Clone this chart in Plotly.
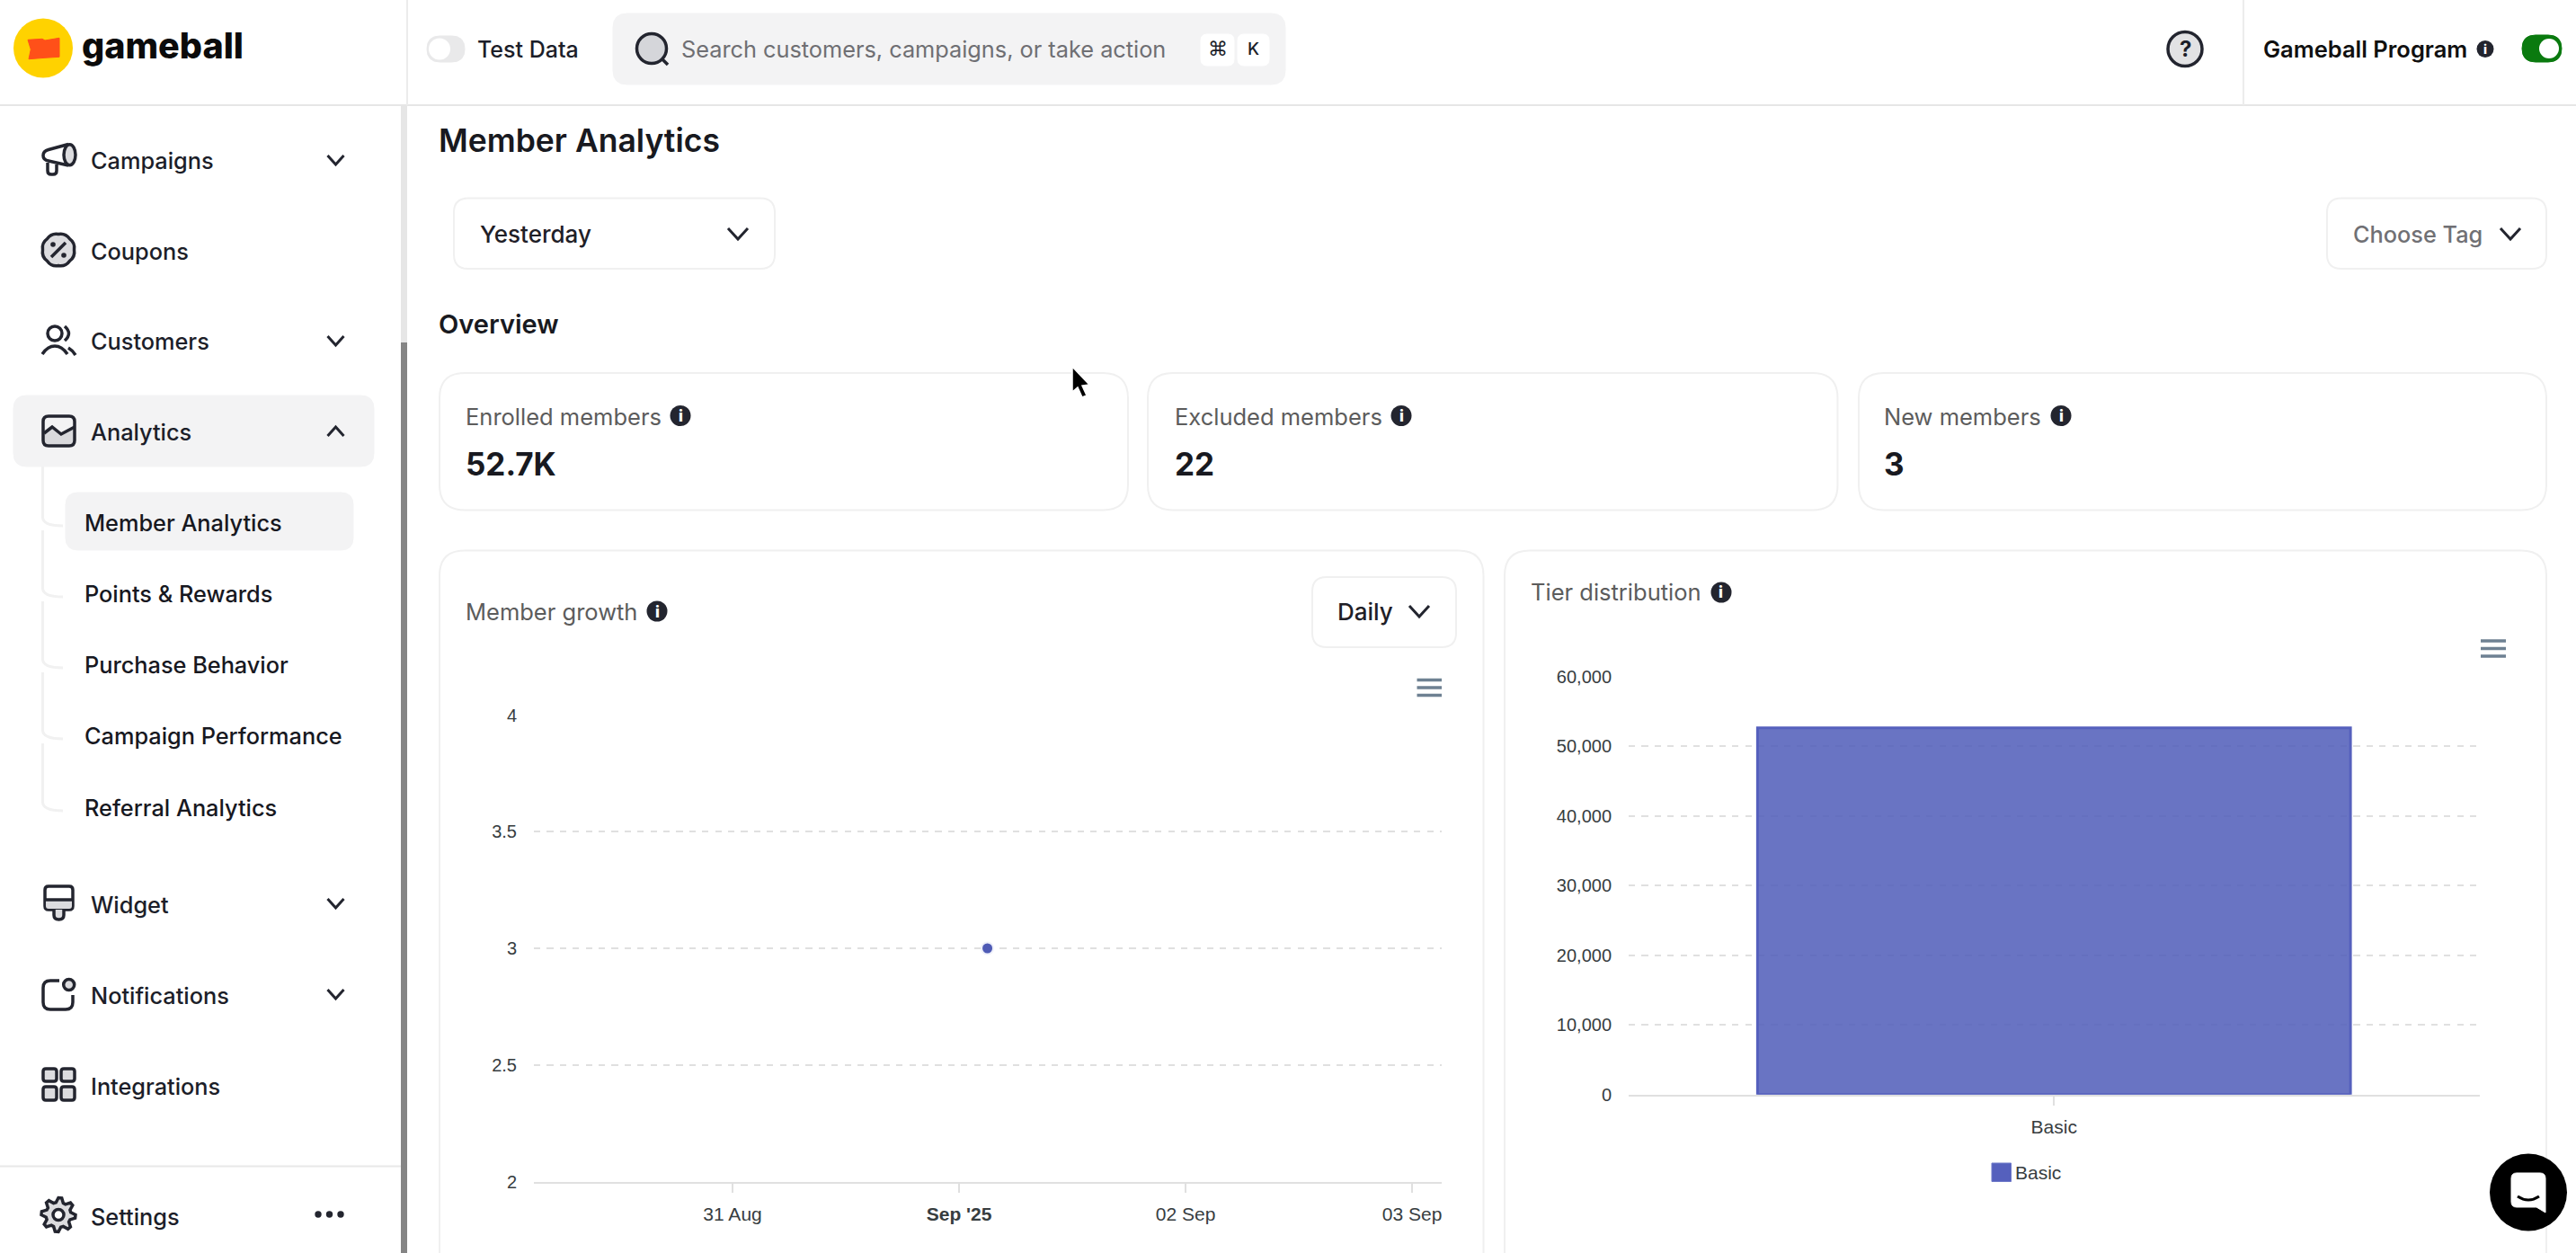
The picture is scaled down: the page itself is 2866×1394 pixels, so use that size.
import math

import plotly.graph_objects as go

W = 2866
H = 1394

# chart data
MEMBER_DATES = ['2025-09-01 03:00']
MEMBER_VALUES = [3]
MEMBER_TICK_DATES = ['2025-08-31', '2025-09-01', '2025-09-02', '2025-09-03']
MEMBER_TICK_TEXT = ['31 Aug', "<b>Sep '25</b>", '02 Sep', '03 Sep']
MEMBER_Y_TICKS = [2, 2.5, 3, 3.5, 4]
MEMBER_Y_TEXT = ['2', '2.5', '3', '3.5', '4']

TIER_NAMES = ['Basic']
TIER_VALUES = [52600]
TIER_Y_TICKS = [0, 10000, 20000, 30000, 40000, 50000, 60000]

STAT_LABELS = ['Enrolled members', 'Excluded members', 'New members']
STAT_VALUES = ['52.7K', '22', '3']

DARK = '#1c1e29'
ICON = '#23252f'
ICON_FILL = '#dcdcdf'
GRAY = '#5c5c5c'
BORDER = '#f0f0f0'
PANEL = '#f3f3f4'
CHART_FONT = 'Liberation Sans'
NONE = 'rgba(0,0,0,0)'

fig = go.Figure()


def X(x):
    return x / W


def Y(y):
    return 1 - y / H


def pts(s):
    # path written in pixels -> paper coords
    out = []
    for tok in s.split():
        if tok[0].isalpha():
            out.append(tok[0])
            tok = tok[1:]
            if not tok:
                continue
        a, b = tok.split(',')
        out.append(f'{X(float(a)):.5f},{Y(float(b)):.5f}')
    return ' '.join(out)


def path(s, fill=NONE, line=ICON, width=3.5):
    fig.add_shape(type='path', path=pts(s), xref='paper', yref='paper', fillcolor=fill,
                  line=dict(color=line, width=width), layer='below')


def rrect(x0, y0, x1, y1, r, fill='white', line=BORDER, width=2):
    s = (f'M{x0 + r},{y0} L{x1 - r},{y0} Q{x1},{y0} {x1},{y0 + r} L{x1},{y1 - r} Q{x1},{y1} {x1 - r},{y1} '
         f'L{x0 + r},{y1} Q{x0},{y1} {x0},{y1 - r} L{x0},{y0 + r} Q{x0},{y0} {x0 + r},{y0} Z')
    path(s, fill, line if width else NONE, width)


def circle(cx, cy, r, fill='white', line=ICON, width=0, ry=None):
    ry = ry or r
    fig.add_shape(type='circle', xref='paper', yref='paper', x0=X(cx - r), x1=X(cx + r), y0=Y(cy + ry), y1=Y(cy - ry),
                  fillcolor=fill, line=dict(color=line, width=width), layer='below')


def hline(x0, x1, y, color=BORDER, width=2):
    fig.add_shape(type='line', xref='paper', yref='paper', x0=X(x0), x1=X(x1), y0=Y(y), y1=Y(y),
                  line=dict(color=color, width=width), layer='below')


def vline(x, y0, y1, color=BORDER, width=2):
    fig.add_shape(type='line', xref='paper', yref='paper', x0=X(x), x1=X(x), y0=Y(y0), y1=Y(y1),
                  line=dict(color=color, width=width), layer='below')


def text(s, x, y, size=25.3, color=DARK, weight=500, anchor='left', family='Inter'):
    fig.add_annotation(text=s, x=X(x), y=Y(y), xref='paper', yref='paper', showarrow=False, xanchor=anchor,
                       yanchor='middle', borderpad=0, borderwidth=0,
                       font=dict(family=family, size=size, color=color, weight=weight))


def chevron(x, y, w=9, h=5, up=False, width=3):
    d = -h if up else h
    path(f'M{x - w},{y - d} L{x},{y + d} L{x + w},{y - d}', width=width)


def info(x, y, r=11.5):
    circle(x, y, r, fill=ICON)
    text('i', x, y, size=r * 1.5, color='white', weight=800, anchor='center')


def burger(x0, x1, ys):
    for y in ys:
        hline(x0, x1, y, color='#6e8192', width=3.5)


def gear(cx, cy, r0, r1, n):
    # toothed ring for the settings icon
    step = 2 * math.pi / (n * 4)
    p = []
    for i in range(n * 4):
        r = r1 if i % 4 in (0, 1) else r0
        p.append(f'{cx + r * math.cos(i * step):.1f},{cy + r * math.sin(i * step):.1f}')
    return 'M' + ' L'.join(p) + ' Z'


def badge(cx, cy, r0, r1, n):
    # scalloped outline for the coupon icon
    step = 2 * math.pi / n
    s = f'M{cx + r0:.1f},{cy:.1f}'
    for i in range(n):
        a = (i + 0.5) * step
        b = (i + 1) * step
        s += (f' Q{cx + r1 * math.cos(a):.1f},{cy + r1 * math.sin(a):.1f} '
              f'{cx + r0 * math.cos(b):.1f},{cy + r0 * math.sin(b):.1f}')
    return s + ' Z'


# ---- header and sidebar frame
hline(0, W, 117, color='#e6e6e6')
vline(453, 0, 117, color='#ececec')
vline(2496, 0, 117, color='#ececec')
vline(449.5, 117, 381, color='#e6e6e6', width=7)
vline(449.5, 381, H, color='#858585', width=7)
hline(0, 446, 1297.5, color='#e8e8e8')

circle(48, 53.5, 33, fill='#ffd200')
path('M31,44.3 L47,43.3 L50,45 L66,42.3 L66,63.3 L50,64.3 L32,65.7 L34.3,55 Z', fill='#ff5019', line='#ff5019', width=1)
text('gameball', 91, 51, size=39.5, color='#0b0b0b', weight=800)

rrect(475, 40, 517, 69, 14.5, fill='#e9e9ea', line='#e9e9ea', width=1)
circle(489, 54.5, 12, fill='white')
text('Test Data', 531, 55, size=25)

rrect(682, 15, 1430, 94, 16, fill=PANEL, line=PANEL, width=1)
circle(725, 54, 16.5, fill='#d5d6da', width=3.5)
path('M737,66 L743,72')
text('Search customers, campaigns, or take action', 758, 55, size=25.3, color='#6f6f73', weight=400)
rrect(1336, 38, 1373, 73, 7, fill='white', line='white', width=1)
rrect(1377, 38, 1412, 73, 7, fill='white', line='white', width=1)
text('⌘', 1354.5, 55, size=22, family='DejaVu Sans', anchor='center', weight=400)
text('K', 1394.5, 55, size=19, anchor='center')

circle(2431, 54.5, 19, fill='#e2e2e4', width=3.5)
text('?', 2431, 54.5, size=24, weight=700, anchor='center')
text('Gameball Program', 2518, 54.5, size=25.5, color='#101010', weight=600)
info(2765, 54.5, 9.5)
rrect(2806, 39, 2850, 69, 15, fill='#0a7a0f', line='#0a7a0f', width=1)
circle(2836, 54, 11, fill='white')

# ---- sidebar menu
rrect(15, 440, 416, 519, 15, fill=PANEL, line=PANEL, width=1)
rrect(73, 548, 393, 612, 14, fill=PANEL, line=PANEL, width=1)
for top, end in [(519, 585), (590, 664), (669, 743), (748, 822), (827, 902)]:
    path(f'M47.5,{top} L47.5,{end - 10} Q47.5,{end} 70,{end}', line='#f1f1f1', width=3)

text('Campaigns', 100.5, 178.5)
text('Coupons', 100.5, 279)
text('Customers', 100.5, 379.5)
text('Analytics', 100.5, 480.5)
text('Member Analytics', 94, 581.5, color='#17181f')
text('Points & Rewards', 94, 660.5, color='#17181f')
text('Purchase Behavior', 94, 739.5, color='#17181f')
text('Campaign Performance', 94, 818.5, color='#17181f')
text('Referral Analytics', 94, 898, color='#17181f')
text('Widget', 100.5, 1006)
text('Notifications', 100.5, 1107)
text('Integrations', 100.5, 1208)
text('Settings', 100.5, 1353)

for y in (178, 379, 1005, 1106):
    chevron(373.5, y)
chevron(373.5, 480, up=True)
for x in (354, 366.5, 379):
    circle(x, 1351, 3.7, fill=ICON)

# campaigns
path('M76,160.5 L54,166.5 Q48,168 48,173 Q48,178 54,179 L76,184')
path('M53,181 L53,190 Q53,194 57,194 L59,194 Q63,194 63,190 L63,183')
circle(77.5, 172.3, 6.5, fill=ICON_FILL, width=3.5, ry=11.5)
# coupons
path(badge(65, 278, 17.5, 20.5, 8), fill=ICON_FILL)
path('M57,286 L73,270')
circle(59, 272, 2.8, fill=ICON)
circle(71, 284, 2.8, fill=ICON)
# customers
circle(61, 371, 8, fill=NONE, width=3.5)
path('M72,363 Q81,371 72,379')
path('M47,394 Q53,385 61,385 Q69,385 75,394')
path('M76,387 Q81,390 84,395')
# analytics
path('M49,482 L58,475 L68,483 L83,475 L83,490 Q83,496 77,496 L54,496 Q48,496 48,490 Z', fill='#d9d9dc', line=NONE, width=0)
path('M49,482 L58,475 L68,483 L83,475')
rrect(48, 463, 83, 496, 6, fill=NONE, line=ICON, width=3.5)
# widget
rrect(50, 986, 81, 1012, 4, fill='white', line=ICON, width=3.5)
path('M51,1002 L80,1002 L80,1008 Q80,1011 77,1011 L54,1011 Q51,1011 51,1008 Z', fill=ICON_FILL, line=NONE, width=0)
hline(50, 81, 1001, color=ICON, width=3.5)
path('M60,1012 L60,1018 Q60,1023 65.5,1023 Q71,1023 71,1018 L71,1012', fill=ICON_FILL)
# notifications
path('M66,1091 L56,1091 Q48,1091 48,1099 L48,1115 Q48,1123 56,1123 L73,1123 Q81,1123 81,1115 L81,1107')
circle(76.7, 1095.5, 6, fill=ICON_FILL, width=3.5)
# integrations
rrect(48, 1189, 63, 1203, 3, fill=ICON_FILL, line=ICON, width=3.5)
rrect(68, 1189, 83, 1203, 3, fill=ICON_FILL, line=ICON, width=3.5)
rrect(48, 1209, 63, 1224, 3, fill=ICON_FILL, line=ICON, width=3.5)
rrect(68, 1209, 83, 1224, 3, fill=ICON_FILL, line=ICON, width=3.5)
# settings
path(gear(65, 1351.5, 14, 19, 8), fill=ICON_FILL)
circle(65, 1351.5, 6, fill='white', width=3.5)

# ---- page head
text('Member Analytics', 488, 156, size=35.5, color='#181920', weight=600)
rrect(505, 220.5, 862, 299, 16)
text('Yesterday', 534, 260.5, size=26, color='#1f2027')
chevron(821, 260, 11, 6)
rrect(2589, 220.5, 2833, 299, 16)
text('Choose Tag', 2618, 260.5, size=25.3, color='#707074')
chevron(2793, 260, 11, 6)
text('Overview', 488, 360, size=29, color='#181920', weight=600)

# ---- stat cards
stat_boxes = [(489, 1255, 518, 757), (1277, 2044.5, 1307, 1559), (2068, 2833, 2096, 2293)]
for (x0, x1, tx, ix), label, value in zip(stat_boxes, STAT_LABELS, STAT_VALUES):
    rrect(x0, 415, x1, 567.5, 28)
    text(label, tx, 463, size=25.5, color=GRAY, weight=400)
    info(ix, 462.5)
    text(value, tx, 516, size=35, color='#181920', weight=700)

# ---- chart cards
rrect(489, 612.5, 1650.5, 1440, 28)
rrect(1674, 612.5, 2833, 1440, 28)
text('Member growth', 518, 680, size=25.5, color=GRAY, weight=400)
info(731, 680)
rrect(1460, 642, 1620, 720, 16)
text('Daily', 1488, 680, size=26, color='#1f2027')
chevron(1579, 680, 11, 6)
text('Tier distribution', 1703, 659, size=25.5, color=GRAY, weight=400)
info(1915, 659)
burger(1576.5, 1604, (756.5, 765, 773.5))
burger(2760, 2788, (713, 721.5, 730))

# chart legend
rrect(2216, 1294, 2237.5, 1314.5, 0, fill='#5560bd', line='#6e79c9', width=1)
text('Basic', 2242, 1304.5, size=21, color='#373d3f', weight=400, family=CHART_FONT)

# chat button and pointer
circle(2813, 1326.5, 43, fill='black')
path('M2800,1305 L2826,1305 Q2832,1305 2832,1311 L2832,1349 L2822,1343 L2800,1343 Q2794,1343 2794,1337 L2794,1311 '
     'Q2794,1305 2800,1305 Z', fill='white', line='white', width=1)
path('M2801,1331 Q2813,1339 2825,1331', line='black', width=3)
path('M1193,408 L1193,436 L1199,431 L1204,442 L1209,440 L1204,429 L1212,428 Z', fill='black', line='white', width=1.5)

# ---- charts
fig.add_trace(go.Scatter(
    x=MEMBER_DATES, y=MEMBER_VALUES, mode='markers', xaxis='x', yaxis='y', showlegend=False,
    marker=dict(color='#4f5bb5', size=13, line=dict(color='#eef0fa', width=2)),
))
fig.add_trace(go.Bar(
    x=TIER_NAMES, y=TIER_VALUES, width=0.697, xaxis='x2', yaxis='y2', showlegend=False,
    marker=dict(color='rgba(79,92,184,0.85)', line=dict(color='#5560bd', width=3)),
))

y_font = dict(family=CHART_FONT, size=20, color='#373d3f')
x_font = dict(family=CHART_FONT, size=21, color='#373d3f')
grid = dict(automargin=False, showgrid=True, gridcolor='#e0e0e0', gridwidth=2, griddash='7.2px,7.2px', zeroline=False,
            showline=False, ticks='', tickfont=y_font, ticklabelstandoff=18)
xaxis_style = dict(automargin=False, showgrid=False, zeroline=False, showline=True, linecolor='#e0e0e0', linewidth=2,
                   ticks='outside', ticklen=10, tickwidth=2, tickcolor='#e0e0e0', tickfont=x_font,
                   ticklabelstandoff=6)

fig.update_layout(
    width=W, height=H, margin=dict(l=0, r=0, t=0, b=0), paper_bgcolor='white', plot_bgcolor=NONE,
    xaxis=dict(domain=[X(594), X(1604)], anchor='y', type='date',
               range=['2025-08-30 02:57', '2025-09-03 03:08'], tickmode='array',
               tickvals=MEMBER_TICK_DATES, ticktext=MEMBER_TICK_TEXT, **xaxis_style),
    yaxis=dict(domain=[Y(1314.5), Y(795.5)], anchor='x', range=[2, 4], tickmode='array',
               tickvals=MEMBER_Y_TICKS, ticktext=MEMBER_Y_TEXT, **grid),
    xaxis2=dict(domain=[X(1812), X(2758.5)], anchor='y2', type='category', range=[-0.5, 0.5], **xaxis_style),
    yaxis2=dict(domain=[Y(1217.7), Y(752.5)], anchor='x2', range=[0, 60000], tickmode='array',
                tickvals=TIER_Y_TICKS, tickformat=',d', **grid),
)

fig.write_html('out.html', config=dict(displayModeBar=False),
               post_script="document.body.style.margin='0';document.body.style.overflow='hidden';")
